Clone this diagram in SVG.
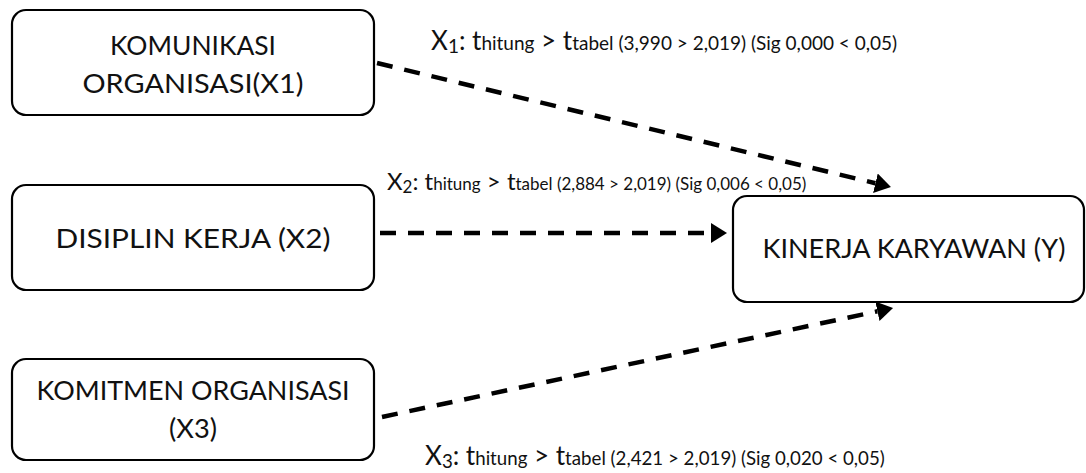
<svg xmlns="http://www.w3.org/2000/svg" width="1086" height="473" viewBox="0 0 1086 473">
<style>
.box{fill:#fff;stroke:#000;stroke-width:2.2}
.nt{font-family:Lato,"Open Sans","Liberation Sans",sans-serif;font-size:27.5px;fill:#111;text-anchor:middle}
.lb{font-family:Lato,"Open Sans","Liberation Sans",sans-serif;fill:#111}
.dash{fill:none;stroke:#000;stroke-width:4.5;stroke-dasharray:16 12}
</style>
<defs>
<marker id="ah" markerUnits="userSpaceOnUse" markerWidth="17" markerHeight="21" refX="0" refY="10" orient="auto">
<path d="M0,0 L16,10 L0,20 z" fill="#000"/>
</marker>
</defs>
<rect width="1086" height="473" fill="#fff"/>
<g id="connectors">
<path class="dash" d="M377,63 L875.4,183.2" marker-end="url(#ah)"/>
<path class="dash" d="M380,233 L711,233" marker-end="url(#ah)"/>
<path class="dash" d="M382,417 L877.4,311.3" marker-end="url(#ah)"/>
</g>
<g id="node-x1">
<rect class="box" x="12" y="10" width="362" height="105" rx="14"/>
<text class="nt" x="193" y="55" textLength="166" lengthAdjust="spacingAndGlyphs">KOMUNIKASI</text>
<text class="nt" x="193" y="93" textLength="221" lengthAdjust="spacingAndGlyphs">ORGANISASI(X1)</text>
</g>
<g id="node-x2">
<rect class="box" x="12" y="185" width="362" height="105" rx="14"/>
<text class="nt" x="193" y="248" textLength="275" lengthAdjust="spacingAndGlyphs">DISIPLIN KERJA (X2)</text>
</g>
<g id="node-x3">
<rect class="box" x="12" y="359" width="362" height="101" rx="14"/>
<text class="nt" x="193" y="400" textLength="313" lengthAdjust="spacingAndGlyphs">KOMITMEN ORGANISASI</text>
<text class="nt" x="193" y="438" textLength="48" lengthAdjust="spacingAndGlyphs">(X3)</text>
</g>
<g id="node-y">
<rect class="box" x="733" y="196" width="351" height="106" rx="14"/>
<text class="nt" x="914" y="258" textLength="303" lengthAdjust="spacingAndGlyphs">KINERJA KARYAWAN (Y)</text>
</g>
<g id="labels">
<text class="lb" x="431" y="50" font-size="26">X<tspan font-size="19" dy="3">1</tspan><tspan dy="-3">: t</tspan><tspan font-size="19">hitung</tspan> &gt; t<tspan font-size="19">tabel (3,990 &gt; 2,019) (Sig 0,000 &lt; 0,05)</tspan></text>
<text class="lb" x="387" y="190" font-size="24">X<tspan font-size="17" dy="3">2</tspan><tspan dy="-3">: t</tspan><tspan font-size="17">hitung</tspan> &gt; t<tspan font-size="17">tabel (2,884 &gt; 2,019) (Sig 0,006 &lt; 0,05)</tspan></text>
<text class="lb" x="425" y="465" font-size="26">X<tspan font-size="18.7" dy="3">3</tspan><tspan dy="-3">: t</tspan><tspan font-size="18.7">hitung</tspan> &gt; t<tspan font-size="18.7">tabel (2,421 &gt; 2,019) (Sig 0,020 &lt; 0,05)</tspan></text>
</g>
</svg>
